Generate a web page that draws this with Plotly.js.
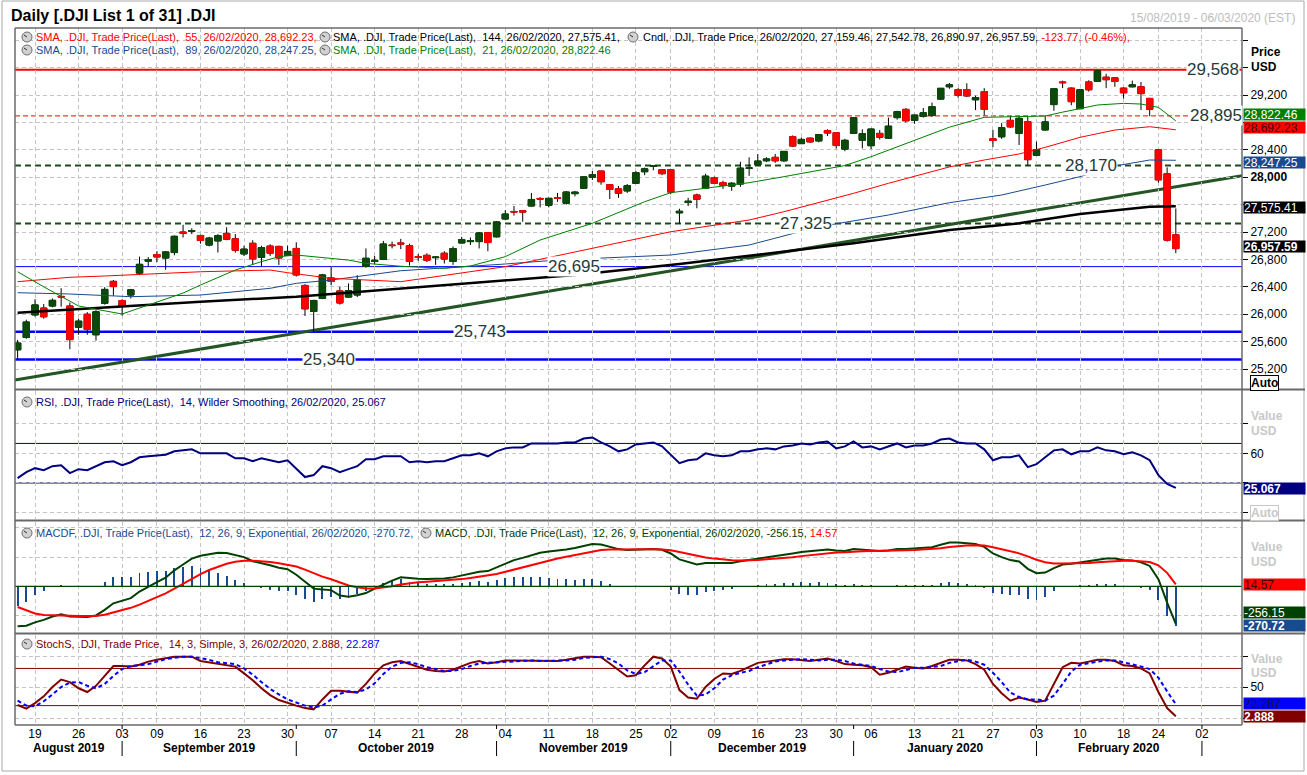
<!DOCTYPE html>
<html><head><meta charset="utf-8">
<script src="https://cdn.plot.ly/plotly-3.0.1.min.js"></script>
<style>html,body{margin:0;padding:0;background:#fff;}#chart{width:1307px;height:775px;}</style>
</head><body><div id="chart"></div>
<script>
// ---------------- DATA ----------------
const dates = ['2019-08-15','2019-08-16','2019-08-19','2019-08-20','2019-08-21','2019-08-22','2019-08-23','2019-08-26','2019-08-27','2019-08-28','2019-08-29','2019-08-30',
'2019-09-03','2019-09-04','2019-09-05','2019-09-06','2019-09-09','2019-09-10','2019-09-11','2019-09-12','2019-09-13','2019-09-16','2019-09-17','2019-09-18','2019-09-19','2019-09-20','2019-09-23','2019-09-24','2019-09-25','2019-09-26','2019-09-27','2019-09-30',
'2019-10-01','2019-10-02','2019-10-03','2019-10-04','2019-10-07','2019-10-08','2019-10-09','2019-10-10','2019-10-11','2019-10-14','2019-10-15','2019-10-16','2019-10-17','2019-10-18','2019-10-21','2019-10-22','2019-10-23','2019-10-24','2019-10-25','2019-10-28','2019-10-29','2019-10-30','2019-10-31',
'2019-11-01','2019-11-04','2019-11-05','2019-11-06','2019-11-07','2019-11-08','2019-11-11','2019-11-12','2019-11-13','2019-11-14','2019-11-15','2019-11-18','2019-11-19','2019-11-20','2019-11-21','2019-11-22','2019-11-25','2019-11-26','2019-11-27','2019-11-29',
'2019-12-02','2019-12-03','2019-12-04','2019-12-05','2019-12-06','2019-12-09','2019-12-10','2019-12-11','2019-12-12','2019-12-13','2019-12-16','2019-12-17','2019-12-18','2019-12-19','2019-12-20','2019-12-23','2019-12-24','2019-12-26','2019-12-27','2019-12-30','2019-12-31',
'2020-01-02','2020-01-03','2020-01-06','2020-01-07','2020-01-08','2020-01-09','2020-01-10','2020-01-13','2020-01-14','2020-01-15','2020-01-16','2020-01-17','2020-01-21','2020-01-22','2020-01-23','2020-01-24','2020-01-27','2020-01-28','2020-01-29','2020-01-30','2020-01-31',
'2020-02-03','2020-02-04','2020-02-05','2020-02-06','2020-02-07','2020-02-10','2020-02-11','2020-02-12','2020-02-13','2020-02-14','2020-02-18','2020-02-19','2020-02-20','2020-02-21','2020-02-24','2020-02-25','2020-02-26'];
const futureDates = ['2020-02-27','2020-02-28','2020-03-02','2020-03-03','2020-03-04','2020-03-05','2020-03-06'];

const open = [25480,25660,25990,26090,26120,26260,26120,25810,26000,25700,26160,26480,
26200,26280,26600,26775,26870,26820,26900,27200,27210,27150,27010,27070,27180,27100,26880,27035,26830,26995,26990,26860,
26960,26420,26040,26230,26530,26340,26250,26280,26700,26770,26800,27010,27040,27000,26840,26860,26825,26890,26770,27040,27060,27060,27190,
27130,27390,27500,27510,27580,27690,27590,27700,27620,27760,27840,28000,28090,27890,27830,27800,27910,28080,28160,28110,
28110,27480,27630,27740,27840,27990,27920,27870,27900,28130,28180,28240,28290,28240,28590,28490,28570,28530,28680,28650,28410,
28640,28540,28460,28640,28570,28870,28990,28830,28890,28900,29140,29320,29280,29280,29130,29250,28560,28590,28830,28640,28810,
28320,28690,29060,29390,29300,29000,29390,29400,29460,29450,29300,29320,29320,29150,28400,28050,27159.46];
const high = [25625,25920,26220,26150,26230,26380,26170,25930,26030,26060,26395,26500,
26220,26370,26840,26835,26920,26920,27150,27306,27255,27160,27130,27170,27270,27170,27000,27080,27000,27020,27000,27000,
27050,26440,26210,26590,26700,26400,26450,26570,26960,26850,27070,27060,27100,27030,26880,26890,26850,26920,26990,27130,27120,27200,27200,
27360,27520,27580,27520,27770,27710,27700,27770,27800,27800,28010,28090,28090,27900,27870,27900,28090,28140,28175,28120,
28110,27540,27700,27760,28050,28010,27950,27930,28225,28290,28337,28290,28340,28380,28610,28580,28580,28630,28700,28650,28560,
28875,28700,28710,28690,28870,28970,29010,28910,29010,29090,29300,29375,29300,29370,29190,29300,28690,28790,28890,28890,28880,
28520,28900,29300,29410,29310,29290,29415,29568,29510,29460,29310,29410,29390,29160,28410,28144,27542.78];
const low = [25340,25640,25965,25935,26100,26110,25490,25700,25700,25615,26140,26270,
25980,26230,26570,26700,26760,26650,26860,27120,27170,27030,26990,26900,27080,26900,26850,26720,26700,26850,26720,26850,
26550,25975,25743,26220,26420,26140,26240,26250,26680,26730,26790,26960,26950,26710,26780,26760,26720,26740,26720,27030,27010,26960,26920,
27120,27380,27440,27350,27570,27560,27560,27640,27600,27720,27830,27960,27890,27680,27700,27770,27900,28030,28100,28030,
27750,27325,27580,27546,27830,27900,27830,27800,27860,28020,28170,28220,28210,28220,28440,28490,28500,28510,28600,28420,28380,
28630,28420,28410,28550,28560,28840,28800,28780,28870,28880,29130,29290,29160,29170,28980,28900,28440,28560,28720,28470,28170,
28310,28680,28970,29300,29050,28990,29250,29390,29300,29320,29150,29310,28980,28890,27920,27060,26890.97];
const close = [25579.39,25886.01,26135.79,25962.44,26202.73,26252.24,25628.90,25898.83,25777.90,26036.10,26362.25,26403.28,
26118.02,26355.47,26728.15,26797.46,26835.51,26909.43,27137.04,27182.45,27219.52,27076.82,27110.80,27147.08,27094.79,26935.07,26949.99,26807.77,26970.71,26891.12,26820.25,26916.83,
26573.04,26078.62,26201.04,26573.72,26478.02,26164.04,26346.01,26496.67,26816.59,26787.36,27024.80,27001.98,27025.88,26770.20,26827.64,26788.10,26833.95,26805.53,26958.06,27090.72,27071.42,27186.69,27046.23,
27347.36,27462.11,27492.63,27492.56,27674.80,27681.24,27691.49,27691.49,27783.59,27781.96,28004.89,28036.22,27934.02,27821.09,27766.29,27875.62,28066.47,28121.68,28164.00,28051.41,
27783.04,27502.81,27649.78,27677.79,28015.06,27909.60,27881.72,27911.30,28132.05,28135.38,28235.89,28267.16,28239.28,28376.96,28455.09,28551.53,28515.45,28621.39,28645.26,28462.14,28538.44,
28868.80,28634.88,28703.38,28583.68,28745.09,28956.90,28823.77,28907.05,28939.67,29030.22,29297.64,29348.10,29196.04,29186.27,29160.09,28989.73,28535.80,28722.85,28734.45,28859.44,28256.03,
28399.81,28807.63,29290.85,29379.77,29102.51,29276.82,29276.34,29551.42,29423.31,29398.08,29232.19,29348.03,29219.98,28992.41,27960.80,27081.36,26957.59];

// moving averages at sample dates
const sma21Dates = ['2019-08-15','2019-08-20','2019-08-26','2019-09-03','2019-09-06','2019-09-12','2019-09-16','2019-09-20','2019-09-25','2019-09-27','2019-10-01','2019-10-04','2019-10-09','2019-10-11','2019-10-17','2019-10-24','2019-10-29','2019-11-04','2019-11-08','2019-11-18','2019-11-26','2019-12-02','2019-12-06','2019-12-13','2019-12-19','2019-12-31','2020-01-06','2020-01-10','2020-01-16','2020-01-17','2020-01-24','2020-01-30','2020-02-04','2020-02-06','2020-02-12','2020-02-18','2020-02-20','2020-02-24','2020-02-26'];
const sma21 = [26620,26400,26120,26003,26134,26309,26426,26645,26767,26840,26864,26830,26790,26743,26700,26670,26704,26840,27083,27327,27642,27774,27840,27920,28008,28170,28299,28495,28689,28730,28874,28883,28893,28950,29054,29078,29068,29020,28822.46];
const sma55Dates = ['2019-08-15','2019-08-23','2019-08-29','2019-09-06','2019-09-16','2019-09-26','2019-09-30','2019-10-07','2019-10-11','2019-10-17','2019-11-04','2019-11-14','2019-12-02','2019-12-13','2019-12-19','2020-01-02','2020-01-08','2020-01-17','2020-01-24','2020-01-30','2020-02-04','2020-02-10','2020-02-14','2020-02-21','2020-02-24','2020-02-26'];
const sma55 = [26475,26539,26558,26587,26620,26645,26606,26524,26499,26475,26694,26912,27204,27375,27496,27765,27911,28150,28251,28339,28436,28582,28689,28737,28723,28692.23];
const sma89Dates = ['2019-08-15','2019-08-23','2019-09-04','2019-09-16','2019-09-26','2019-10-01','2019-10-07','2019-10-11','2019-10-17','2019-11-04','2019-11-12','2019-12-02','2019-12-13','2019-12-26','2020-01-08','2020-01-17','2020-01-28','2020-02-04','2020-02-10','2020-02-14','2020-02-21','2020-02-26'];
const sma89 = [26314,26295,26256,26280,26378,26451,26499,26572,26635,26733,26791,26864,27010,27277,27448,27628,27740,27886,28008,28163,28251,28247.25];
const sma144Dates = ['2019-08-15','2019-08-29','2019-09-16','2019-10-01','2019-10-17','2019-11-04','2019-11-14','2019-12-03','2019-12-19','2020-01-02','2020-01-17','2020-01-30','2020-02-10','2020-02-21','2020-02-26'];
const sma144 = [26022,26100,26183,26256,26378,26499,26572,26733,26912,27035,27229,27327,27463,27569,27575.41];

// support / resistance levels and trend line ends
const levels = [29568, 28895, 28170, 27325, 26695, 25743, 25340];
const levelLabels = ['29,568','28,895','28,170','27,325','26,695','25,743','25,340'];
const trendStart = 25040, trendEnd = 28020;

// RSI(14)
const rsi = [35,41,45,43,47,48,40,44,43,47,51,52,
48,51,56,57,58,58.5,62,63,64,60,60,60.5,60,55,55,52,55,53,51,53,
45,36,38,47,45,41,44,47,54,54,57,57,57,51,52,51,52,52,55,58,58,60,57,
62,65,66,66,70,70,70,70,71,71,75,76,71,67,62,64,69,70,71,67,
58,50,53,54,60,58,57,58,62,62,64,65,64,67,68,70,69,71,72,65,67,
72,66,67,64,67,70,66,68,68,70,74,75,71,70,70,64,53,56,56,58,46,
49,56,63,64,59,62,62,66,63,62,59,61,58,53,38,29,25.067];

// MACD(12,26,9)
const macd = [-272,-268,-245,-228,-205,-190,-205,-205,-208,-198,-160,-115,
-100,-80,-35,0,30,60,110,150,190,210,222,230,228,215,200,172,160,145,128,118,
80,30,-15,-20,-25,-62,-70,-60,-45,-15,15,40,62,55,52,50,52,55,62,75,90,100,105,
130,160,180,195,215,230,238,243,252,262,278,290,286,270,255,248,252,255,256,250,
225,185,165,150,160,160,158,160,172,180,192,200,205,215,225,235,240,248,252,245,242,
255,250,250,242,245,255,255,258,262,268,285,300,300,296,290,270,225,200,180,170,120,
90,95,125,150,155,165,170,185,190,190,180,178,165,140,50,-110,-256.15];
const macdSignal = [-140,-165,-185,-195,-198,-200,-200,-201,-202,-201,-193,-178,
-163,-146,-124,-100,-74,-47,-15,18,52,84,112,136,155,168,175,176,173,167,159,150,
136,115,89,67,49,27,7,-6,-14,-14,-8,2,14,22,28,32,36,40,44,50,58,66,74,
85,100,116,132,148,164,179,191,203,215,228,240,249,253,254,253,253,254,254,253,
247,235,221,207,198,190,184,179,178,178,181,185,189,194,200,207,214,221,227,231,233,
238,240,242,242,243,245,247,249,252,255,261,269,275,279,281,279,268,254,240,226,205,
182,165,157,156,156,158,160,165,170,174,175,176,174,167,144,93,14.57];
const macdHist = [-132,-103,-60,-33,-7,10,-5,-4,-6,3,33,63,
63,66,89,100,104,107,125,132,138,126,110,94,73,47,25,-4,-13,-22,-31,-32,
-56,-85,-104,-87,-74,-89,-77,-54,-31,-1,23,38,48,33,24,18,16,15,18,25,32,34,31,
45,60,64,63,67,66,59,52,49,47,50,50,37,17,1,-5,-1,1,2,-3,
-22,-50,-56,-57,-38,-30,-26,-19,-6,2,11,15,16,21,25,28,26,27,25,14,9,
17,10,8,0,2,10,8,9,10,13,24,31,25,17,9,-9,-43,-54,-60,-56,-85,
-92,-70,-32,-6,-1,7,10,20,20,16,5,2,-9,-27,-94,-203,-270.72];

// Slow stochastic (14,3,3)
const stochK = [21,15,24,35,50,62,58,48,42,52,68,84,
84,83,86,91,94,97,99,99,99,92,90,88,86,83,72,61,48,37,29,24,
20,16,14,30,44,44,42,41,55,72,85,90,92,87,82,78,76,75,78,84,89,92,88,
90,93,93,93,92,92,92,92,94,97,99,99,98,88,77,67,69,85,99,96,
83,45,33,31,50,63,72,71,76,82,89,91,93,95,95,94,92,94,96,92,87,
86,85,82,70,73,78,83,81,80,84,89,94,94,93,87,78,55,40,28,33,30,
26,28,55,82,89,88,91,94,94,92,85,84,80,72,42,16,2.888];
const stochD = [28,20,19,27,38,50,57,58,52,48,55,68,
79,84,85,87,91,95,97,99,99,97,94,90,88,87,80,70,58,47,38,30,
25,20,17,20,30,39,43,42,46,56,71,83,89,90,87,82,79,76,76,79,84,88,89,
90,90,92,93,93,92,92,92,93,94,97,98,99,95,88,77,71,74,84,93,
93,75,54,36,38,48,62,69,73,76,82,87,91,93,94,95,94,93,94,94,92,
88,86,84,79,75,74,78,81,81,82,84,89,92,94,91,86,73,58,41,34,30,
30,28,36,55,75,86,89,91,93,93,90,87,83,79,65,43,22.287];

// axis labels
const tickDates = ['2019-08-19','2019-08-26','2019-09-03','2019-09-09','2019-09-16','2019-09-23','2019-09-30','2019-10-07','2019-10-14','2019-10-21','2019-10-28','2019-11-04','2019-11-11','2019-11-18','2019-11-25','2019-12-02','2019-12-09','2019-12-16','2019-12-23','2019-12-30','2020-01-06','2020-01-13','2020-01-21','2020-01-27','2020-02-03','2020-02-10','2020-02-18','2020-02-24','2020-03-02'];
const tickLabels = ['19','26','03','09','16','23','30','07','14','21','28','04','11','18','25','02','09','16','23','30','06','13','21','27','03','10','18','24','02'];
const monthLabels = ['August 2019','September 2019','October 2019','November 2019','December 2019','January 2020','February 2020'];
const monthStarts = ['2019-09-03','2019-10-01','2019-11-01','2019-12-02','2020-01-02','2020-02-03','2020-03-02'];
const priceTicks = [25200,25600,26000,26400,26800,27200,27600,28000,28400,28800,29200,29600,30000];
const priceTickLabels = ['25,200','25,600','26,000','26,400','26,800','27,200','','<b>28,000</b>','28,400','','29,200','',''];

// ---------------- LAYOUT HELPERS ----------------
const L = 15, R = 1242, T = 28, B = 725;
const px = x => (x - L) / (R - L);
const py = y => 1 - (y - T) / (B - T);
const FONT = 'Liberation Sans, Arial, sans-serif';
const GREEN = '#0b4a0b', RED = '#ff0000', NAVY = '#000080', BLUE89 = '#174a8f', DKGREEN = '#245524';
const allDates = dates.concat(futureDates);
const XRANGE = [-0.3, 140.6];
const dom = (top, bot) => [py(bot), py(top)];

// ---------------- TRACES ----------------
const traces = [];
traces.push({type:'scatter', x: allDates, y: allDates.map(() => 27000), mode:'markers', marker:{opacity:0}, hoverinfo:'skip', showlegend:false, xaxis:'x', yaxis:'y'});
traces.push({type:'candlestick', x: dates, open: open, high: high, low: low, close: close,
  increasing:{line:{color:'#000', width:1}, fillcolor:'#000'},
  decreasing:{line:{color:'#000', width:1}, fillcolor:'#000'},
  whiskerwidth:0, hoverinfo:'skip', showlegend:false, xaxis:'x', yaxis:'y'});
traces.push({type:'candlestick', x: dates, open: open, close: close,
  high: open.map((o,i) => Math.max(o, close[i])), low: open.map((o,i) => Math.min(o, close[i])),
  increasing:{line:{color:GREEN, width:1}, fillcolor:GREEN},
  decreasing:{line:{color:RED, width:1}, fillcolor:RED},
  whiskerwidth:0, hoverinfo:'skip', showlegend:false, xaxis:'x', yaxis:'y'});
const line = (x, y, color, width, ax, dash) => ({type:'scatter', mode:'lines', x:x, y:y,
  line:{color:color, width:width, dash:dash||'solid'}, hoverinfo:'skip', showlegend:false, xaxis:'x'+(ax>1?ax:''), yaxis:'y'+(ax>1?ax:'')});
traces.push(line(sma144Dates, sma144, '#000000', 2.5, 1));
traces.push(line(sma89Dates, sma89, BLUE89, 1, 1));
traces.push(line(sma55Dates, sma55, RED, 1, 1));
traces.push(line(sma21Dates, sma21, '#008000', 1, 1));
traces.push(line(dates, rsi, NAVY, 2, 2));
traces.push({type:'bar', x: dates, y: macdHist, width:0.22, marker:{color:BLUE89, line:{width:0}}, hoverinfo:'skip', showlegend:false, xaxis:'x3', yaxis:'y3'});
traces.push(line(dates, macd, '#004000', 2, 3));
traces.push(line(dates, macdSignal, RED, 2, 3));
traces.push(line(dates, stochK, '#800000', 2, 4));
traces.push(line(dates, stochD, '#0000ff', 2, 4, '4px,3px'));

// ---------------- AXES ----------------
const gridStyle = {showgrid:true, gridcolor:'#c4c4c4', gridwidth:1, griddash:'4px,3px', zeroline:false};
function xAxis(n, showLabels) {
  return Object.assign({type:'category', categoryorder:'array', categoryarray: allDates, range: XRANGE,
    tickvals: tickDates, ticktext: tickLabels, ticks:'', showticklabels: showLabels,
    tickfont:{family:FONT, size:12, color:'#000'}, anchor: 'y'+(n>1?n:''), showline:false,
    rangeslider:{visible:false}, fixedrange:true}, gridStyle, n>1 ? {matches:'x'} : {});
}
function yAxis(domain, range, tickvals, ticktext) {
  return Object.assign({domain: domain, range: range, side:'right', tickvals: tickvals, ticktext: ticktext,
    ticks:'outside', ticklen:5, tickcolor:'#000', tickfont:{family:FONT, size:12, color:'#000'},
    showline:false, fixedrange:true}, gridStyle);
}

// ---------------- SHAPES ----------------
const shapes = [];
const hline = (v, color, width, dash) => ({type:'line', xref:'paper', yref:'y', x0:0, x1:1, y0:v, y1:v, layer:'between', line:{color:color, width:width, dash:dash||'solid'}});
shapes.push(hline(levels[0], RED, 2));
shapes.push(hline(levels[1], RED, 1, '5px,3px'));
shapes.push(hline(levels[2], '#1a4a1a', 2, '6px,4px'));
shapes.push(hline(levels[3], '#1a4a1a', 2, '6px,4px'));
shapes.push(hline(levels[4], '#0000ff', 1));
shapes.push(hline(levels[5], '#0000ff', 2.5));
shapes.push(hline(levels[6], '#0000ff', 2.5));
shapes.push({type:'line', xref:'paper', yref:'y', x0:0, x1:1, y0:trendStart, y1:trendEnd, layer:'between', line:{color:DKGREEN, width:3}});
[70,30].forEach(v => shapes.push({type:'line', xref:'paper', yref:'y2', x0:0, x1:1, y0:v, y1:v, layer:'between', line:{color:NAVY, width:1}}));
shapes.push({type:'line', xref:'paper', yref:'y3', x0:0, x1:1, y0:0, y1:0, layer:'above', line:{color:'#004000', width:1.2}});
[80,20].forEach(v => shapes.push({type:'line', xref:'paper', yref:'y4', x0:0, x1:1, y0:v, y1:v, layer:'between', line:{color:'#800000', width:1}}));
const pline = (x0, y0, x1, y1, color, width) => ({type:'line', xref:'paper', yref:'paper', x0:px(x0), x1:px(x1), y0:py(y0), y1:py(y1), line:{color:color, width:width}});
shapes.push({type:'rect', xref:'paper', yref:'paper', x0:px(2), x1:px(1304), y0:py(771), y1:py(1), line:{color:'#a8a8a8', width:1}});
shapes.push(pline(L, T, R, T, '#6a6a6a', 1.5));
shapes.push(pline(L, T, L, B, '#6a6a6a', 1.5));
shapes.push(pline(R, T, R, B, '#6a6a6a', 1.5));
shapes.push(pline(L, B, R, B, '#6a6a6a', 1.5));
[389.5, 520.5, 633.5].forEach(y => shapes.push(pline(L, y, 1305, y, '#6a6a6a', 2)));
monthStarts.forEach(d => {
  shapes.push({type:'line', xref:'x4', yref:'paper', x0:d, x1:d, y0:py(756), y1:py(741), line:{color:'#000', width:1}});
  shapes.push({type:'line', xref:'x4', yref:'paper', x0:d, x1:d, y0:py(729), y1:py(725), line:{color:'#000', width:1}});
});
function icon(cx, cy) {
  shapes.push({type:'circle', xref:'paper', yref:'paper', x0:px(cx-5), x1:px(cx+5), y0:py(cy+5), y1:py(cy-5), fillcolor:'#d2d2d2', line:{color:'#6e6e6e', width:1}});
  shapes.push({type:'line', xref:'paper', yref:'paper', x0:px(cx-3), x1:px(cx), y0:py(cy-2), y1:py(cy), line:{color:'#303030', width:1}});
}
[[27,37],[325,37],[633,37],[27,50],[325,50],[27,402],[27,533],[426,533],[27,644]].forEach(p => icon(p[0], p[1]));

// ---------------- ANNOTATIONS ----------------
const anns = [];
function txt(text, x, y, size, color, opts) {
  anns.push(Object.assign({text:text, xref:'paper', yref:'paper', x:px(x), y:py(y), xanchor:'left', yanchor:'middle', showarrow:false,
    font:{family:FONT, size:size, color:color}}, opts||{}));
}
txt('<b>Daily [.DJI List 1 of 31] .DJI</b>', 9, 15, 16, '#000');
txt('15/08/2019 - 06/03/2020 (EST)', 1297, 18, 12, '#bdbdbd', {xanchor:'right'});
const sp = '\u00a0';
txt('SMA, .DJI, Trade Price(Last),'+sp+' 55, 26/02/2020, 28,692.23,', 34, 37, 11, RED);
txt('SMA, .DJI, Trade Price(Last),'+sp+' 144, 26/02/2020, 27,575.41,', 331, 37, 11, '#000');
txt('Cndl, .DJI, Trade Price, 26/02/2020, 27,159.46, 27,542.78, 26,890.97, 26,957.59, <span style="color:#ff0000">-123.77, (-0.46%),</span>', 641, 37, 11, '#000');
txt('SMA, .DJI, Trade Price(Last),'+sp+' 89, 26/02/2020, 28,247.25,', 34, 50, 11, BLUE89);
txt('SMA, .DJI, Trade Price(Last),'+sp+' 21, 26/02/2020, 28,822.46', 331, 50, 11, '#008000');
txt('RSI, .DJI, Trade Price(Last),'+sp+' 14, Wilder Smoothing, 26/02/2020, 25.067', 34, 402, 11, NAVY);
txt('MACDF, .DJI, Trade Price(Last),'+sp+' 12, 26, 9, Exponential, 26/02/2020, -270.72,', 34, 533, 11, BLUE89);
txt('MACD, .DJI, Trade Price(Last),'+sp+' 12, 26, 9, Exponential, 26/02/2020, -256.15, <span style="color:#ff0000">14.57</span>', 433, 533, 11, '#004000');
txt('StochS, .DJI, Trade Price,'+sp+' 14, 3, Simple, 3, 26/02/2020, 2.888, <span style="color:#0000ff">22.287</span>', 34, 644, 11, '#800000');

const levelX = [1213, 1216, 1091, 806, 574, 480, 329];
levels.forEach((v, i) => anns.push({text: levelLabels[i], xref:'paper', yref:'y', x: px(levelX[i]), y: v, xanchor:'center', yanchor:'middle',
  showarrow:false, bgcolor:'#ffffff', borderpad:0, font:{family:FONT, size:17, color:'#1f3b3b'}}));

txt('<b>Price</b>', 1249, 52, 12, '#000');
txt('<b>USD</b>', 1249, 67, 12, '#000');
function box(text, y, bg, color, bold) {
  anns.push({text: bold ? '<b>'+text+'</b>' : text, xref:'paper', yref:'paper', x:px(1243), y:py(y), xanchor:'left', yanchor:'middle',
    showarrow:false, bgcolor:bg, width:61, height:11, align:'left', borderpad:0, font:{family:FONT, size:12, color:color}});
}
box('28,822.46', 115, '#008000', '#ffffff');
box('28,692.23', 127.5, '#ff0000', '#3a0000');
box('28,247.25', 162, BLUE89, '#ffffff');
box('27,575.41', 207, '#000000', '#ffffff');
box('26,957.59', 246.5, '#000000', '#ffffff', true);
anns.push({text:'<b>Auto</b>', xref:'paper', yref:'paper', x:px(1250), y:py(383), xanchor:'left', yanchor:'middle', showarrow:false,
  bordercolor:'#000', borderwidth:1, borderpad:0, bgcolor:'#fff', font:{family:FONT, size:12, color:'#000'}});
txt('<b>Value</b>', 1249, 416, 12, '#c8c8c8');
txt('<b>USD</b>', 1249, 431, 12, '#c8c8c8');
box('25.067', 488.5, NAVY, '#ffffff', true);
anns.push({text:'<b>Auto</b>', xref:'paper', yref:'paper', x:px(1250), y:py(513), xanchor:'left', yanchor:'middle', showarrow:false,
  bordercolor:'#c8c8c8', borderwidth:1, borderpad:0, bgcolor:'#fff', font:{family:FONT, size:12, color:'#c8c8c8'}});
txt('<b>Value</b>', 1249, 547, 12, '#c8c8c8');
txt('<b>USD</b>', 1249, 562, 12, '#c8c8c8');
box('14.57', 584, '#ff0000', '#3a0000');
box('-256.15', 612, '#004000', '#ffffff');
box('-270.72', 625, BLUE89, '#ffffff', true);
txt('<b>Value</b>', 1249, 659, 12, '#c8c8c8');
txt('<b>USD</b>', 1249, 673, 12, '#c8c8c8');
box('22.287', 703, '#0000ff', '#101030');
box('2.888', 716.5, '#800000', '#ffffff', true);

const startIdx = monthStarts.map(d => allDates.indexOf(d));
monthLabels.forEach((m, i) => {
  const a = i === 0 ? XRANGE[0] : startIdx[i-1];
  anns.push({text:'<b>'+m+'</b>', xref:'x4', yref:'paper', x:(a + startIdx[i]) / 2, y:py(748), xanchor:'center', yanchor:'middle',
    showarrow:false, font:{family:FONT, size:12, color:'#000'}});
});

// ---------------- LAYOUT ----------------
const layout = {
  width:1307, height:775, autosize:false,
  margin:{l:L, r:1307-R, t:T, b:775-B, pad:0},
  paper_bgcolor:'#ffffff', plot_bgcolor:'#ffffff',
  showlegend:false, dragmode:false, hovermode:false,
  boxgap:0.15, boxgroupgap:0.14, bargap:0,
  font:{family:FONT, size:12, color:'#000'},
  xaxis: xAxis(1, false), xaxis2: xAxis(2, false), xaxis3: xAxis(3, false), xaxis4: xAxis(4, true),
  yaxis: Object.assign(yAxis(dom(28,388), [24923, 30178], priceTicks, priceTickLabels), {anchor:'x'}),
  yaxis2: Object.assign(yAxis(dom(391,519), [-6.4, 123], [0,30,60,90], ['', '', '60', '']), {anchor:'x2'}),
  yaxis3: Object.assign(yAxis(dom(522,632), [-311, 440], [-200,0,200,400], ['', '', '', '']), {anchor:'x3', ticks:''}),
  yaxis4: Object.assign(yAxis(dom(635,725), [-11.3, 134], [0,50,100], ['', '50', '']), {anchor:'x4'}),
  shapes: shapes, annotations: anns
};
Plotly.newPlot('chart', traces, layout, {staticPlot:true, displayModeBar:false});
</script></body></html>
